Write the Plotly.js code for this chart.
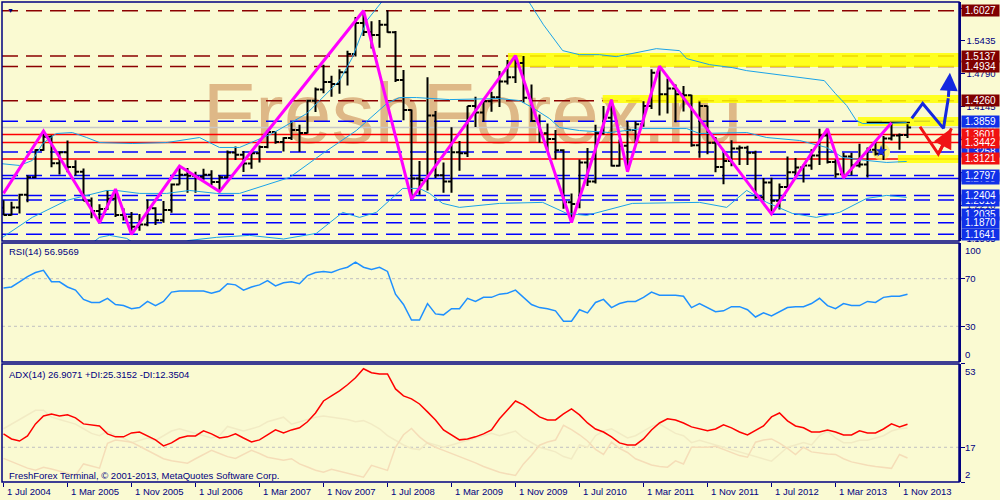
<!DOCTYPE html>
<html><head><meta charset="utf-8">
<script src="https://cdn.plot.ly/plotly-3.0.1.min.js"></script>
<style>html,body{margin:0;padding:0;background:#FAFAD2;} #chart{width:1000px;height:500px;}</style>
</head><body><div id="chart"></div>
<script>
// ---------------- DATA (EUR/USD monthly, Jul 2004 .. Dec 2013) ----------------
const xTickIdx  = [0,8,16,24,32,40,48,56,64,72,80,88,96,104,112];
const xTickText = ['1 Jul 2004','1 Mar 2005','1 Nov 2005','1 Jul 2006','1 Mar 2007','1 Nov 2007','1 Jul 2008','1 Mar 2009','1 Nov 2009','1 Jul 2010','1 Mar 2011','1 Nov 2011','1 Jul 2012','1 Mar 2013','1 Nov 2013'];

const open = [
1.2165,1.2020,1.2170,1.2420,1.2760,1.3295,1.3555,1.3035,1.3250,1.2960,
1.2870,1.2300,1.2100,1.2140,1.2340,1.2020,1.1985,1.1790,1.1835,1.2155,
1.1920,1.2120,1.2620,1.2810,1.2790,1.2770,1.2810,1.2670,1.2760,1.3245,
1.3200,1.3030,1.3230,1.3355,1.3650,1.3450,1.3530,1.3690,1.3630,1.4260,
1.4480,1.4630,1.4590,1.4820,1.5180,1.5785,1.5610,1.5550,1.5750,1.5605,
1.4670,1.4080,1.2735,1.2700,1.3970,1.2800,1.2680,1.3250,1.3230,1.4160,
1.4030,1.4250,1.4330,1.4640,1.4720,1.5000,1.4320,1.3865,1.3625,1.3510,
1.3290,1.2270,1.2235,1.3050,1.2680,1.3630,1.3930,1.2985,1.3380,1.3690,
1.3800,1.4160,1.4810,1.4390,1.4500,1.4390,1.4370,1.3390,1.4160,1.3440,
1.2960,1.3080,1.3325,1.3340,1.3240,1.2370,1.2660,1.2300,1.2570,1.2860,
1.2950,1.2990,1.3190,1.3580,1.3060,1.2820,1.3170,1.2990,1.3010,1.3300,
1.3220,1.3520,1.3580,1.3590];
const high = [
1.2310,1.2280,1.2435,1.2800,1.3310,1.3667,1.3585,1.3265,1.3480,1.3095,
1.2935,1.2365,1.2230,1.2510,1.2530,1.2155,1.2080,1.2040,1.2325,1.2175,
1.2295,1.2640,1.2980,1.2940,1.2870,1.2930,1.2900,1.2800,1.3285,1.3365,
1.3275,1.3240,1.3385,1.3680,1.3660,1.3545,1.3850,1.3790,1.4280,1.4520,
1.4965,1.4750,1.4880,1.5240,1.5905,1.6019,1.5820,1.5845,1.6038,1.5630,
1.4865,1.4090,1.3080,1.4720,1.4060,1.3050,1.3740,1.3470,1.4160,1.4340,
1.4280,1.4440,1.4845,1.5060,1.5145,1.5140,1.4580,1.3990,1.3815,1.3690,
1.3310,1.2440,1.3110,1.3335,1.3790,1.4160,1.4280,1.3500,1.3860,1.3860,
1.4250,1.4880,1.4940,1.4700,1.4580,1.4550,1.4380,1.4245,1.4165,1.3550,
1.3235,1.3485,1.3385,1.3380,1.3280,1.2745,1.2750,1.2640,1.3170,1.3140,
1.3010,1.3310,1.3710,1.3710,1.3110,1.3240,1.3240,1.3420,1.3345,1.3450,
1.3570,1.3830,1.3620,1.3800];
const low = [
1.2020,1.2010,1.2050,1.2270,1.2740,1.3280,1.2955,1.2815,1.2860,1.2795,
1.2300,1.1955,1.1868,1.2120,1.1980,1.1915,1.1640,1.1710,1.1800,1.1825,
1.1870,1.2065,1.2620,1.2455,1.2455,1.2710,1.2605,1.2480,1.2745,1.3100,
1.2865,1.2930,1.3050,1.3330,1.3420,1.3265,1.3490,1.3260,1.3620,1.4040,
1.4410,1.4340,1.4400,1.4560,1.5130,1.5530,1.5285,1.5300,1.5595,1.4630,
1.3880,1.2330,1.2420,1.2500,1.2745,1.2455,1.2455,1.2890,1.3160,1.3745,
1.3850,1.4045,1.4140,1.4580,1.4610,1.4220,1.3860,1.3440,1.3270,1.3115,
1.2145,1.1875,1.2155,1.2590,1.2640,1.3600,1.2970,1.2970,1.2870,1.3430,
1.3750,1.4100,1.3970,1.4010,1.3840,1.4050,1.3360,1.3145,1.3210,1.2860,
1.2625,1.2975,1.3000,1.3000,1.2340,1.2285,1.2040,1.2130,1.2560,1.2800,
1.2660,1.2910,1.3000,1.3030,1.2750,1.2745,1.2800,1.2950,1.2755,1.3190,
1.3100,1.3480,1.3300,1.3530];
const close = [
1.2020,1.2170,1.2420,1.2760,1.3295,1.3555,1.3035,1.3250,1.2960,1.2870,
1.2300,1.2100,1.2140,1.2340,1.2020,1.1985,1.1790,1.1835,1.2155,1.1920,
1.2120,1.2620,1.2810,1.2790,1.2770,1.2810,1.2670,1.2760,1.3245,1.3200,
1.3030,1.3230,1.3355,1.3650,1.3450,1.3530,1.3690,1.3630,1.4260,1.4480,
1.4630,1.4590,1.4820,1.5180,1.5785,1.5610,1.5550,1.5750,1.5605,1.4670,
1.4080,1.2735,1.2700,1.3970,1.2800,1.2680,1.3250,1.3230,1.4160,1.4030,
1.4250,1.4330,1.4640,1.4720,1.5000,1.4320,1.3865,1.3625,1.3510,1.3290,
1.2270,1.2235,1.3050,1.2680,1.3630,1.3930,1.2985,1.3380,1.3690,1.3800,
1.4160,1.4810,1.4390,1.4500,1.4390,1.4370,1.3390,1.4160,1.3440,1.2960,
1.3080,1.3325,1.3340,1.3240,1.2370,1.2660,1.2300,1.2570,1.2860,1.2950,
1.2990,1.3190,1.3580,1.3060,1.2820,1.3170,1.2990,1.3010,1.3300,1.3220,
1.3520,1.3580,1.3590,1.3736];

// Bollinger bands (at selected bars)
const bbUpperIdx = [-0.5,2,3.6,4.9,6.6,8.6,10.4,12,16.1,20.4,24.5,27,29.5,33.6,37.9,42,43.6,45.4,47.4,50,54,58,62,65.6,67.5,69.9,72,74.5,76.6,79.9,81.6,84.5,85.4,88.25,91.1,92.9,97,102.6,104,105.4,106.6,107.4,110.1,112.9];
const bbUpper    = [1.3031,1.2992,1.3090,1.3423,1.3619,1.3638,1.3540,1.3442,1.3423,1.3442,1.3540,1.3345,1.3345,1.3619,1.4010,1.4656,1.5107,1.5831,1.6223,1.65,1.67,1.68,1.66,1.622,1.575,1.5244,1.5165,1.5165,1.5126,1.5224,1.5283,1.5244,1.5087,1.4970,1.4911,1.4852,1.4774,1.4656,1.44,1.4167,1.3873,1.3814,1.3814,1.3834];
const bbMidIdx = [-0.5,3.6,7.9,10.4,12.9,14.1,17,20.4,23.25,26.6,29.5,35.75,39.9,44.1,47.9,49.5,51.6,55.75,59.9,62,64.5,66.1,68.25,69.5,72,75.75,79.9,85.4,87,91.1,92.9,95.4,99.5,102.9,104.9,107.9,110.4,112.9];
const bbMid    = [1.1543,1.1974,1.2307,1.2405,1.2502,1.2502,1.2444,1.2444,1.2502,1.2444,1.2444,1.2757,1.3227,1.3677,1.4206,1.4324,1.4324,1.4284,1.4304,1.4304,1.4265,1.4128,1.3912,1.3736,1.3677,1.3638,1.3716,1.3716,1.3619,1.3638,1.3638,1.3540,1.3482,1.3345,1.3149,1.3090,1.3051,1.3071];
const bbLowerIdx = [-0.5,4,8,10.5,12,13.25,15.4,17,20,23.25,26.6,30.75,35,39.1,42.4,44.5,46.6,49.9,52,53.25,54.9,57,62,67.4,70.4,72.9,78.6,87,90.4,92.9,95.4,98.6,101.6,104.5,107.9,110.4,112.9];
const bbLower    = [1.005,1.05,1.10,1.14,1.1582,1.1621,1.1562,1.14,1.135,1.1523,1.1582,1.1621,1.155,1.1660,1.2072,1.1974,1.2072,1.2542,1.2542,1.2444,1.2248,1.2170,1.2248,1.2268,1.2052,1.2013,1.2248,1.2268,1.2170,1.2503,1.2268,1.2052,1.1974,1.2072,1.2346,1.2405,1.2366];

// ZigZag swing points
const zzIdx   = [0,5,12,14,16,22,27,45,51,64,71,76,78,82,96,103,105,111];
const zzPrice = [1.2444,1.3667,1.1868,1.2530,1.1640,1.2980,1.2480,1.6027,1.2330,1.5145,1.1875,1.4280,1.2870,1.4940,1.2040,1.3710,1.2745,1.3830];

// Forecast paths
const fcBlueIdx = [113.53,114.9,117.5,118.1];
const fcBlue    = [1.3916,1.4209,1.3720,1.4309];
const fcBlueTip = [118.3,1.4810];
const fcRedIdx  = [114.56,116.85];
const fcRed     = [1.3752,1.3216];
const fcRedTip  = [118.5,1.3720];

// RSI(14)
const rsi = [
62.2,63.0,67.4,71.7,75.2,77.0,67.4,67.4,63.0,60.4,
52.6,50.0,50.0,53.5,48.3,47.4,44.8,45.7,50.9,47.4,
50.9,58.7,59.6,59.6,59.6,59.6,57.8,59.6,65.7,64.8,
60.4,63.0,64.8,68.3,63.9,66.5,67.4,65.7,72.6,75.2,
76.1,75.2,77.8,79.6,83.9,79.6,77.8,79.6,76.1,57.0,
48.3,35.2,35.2,49.1,40.4,39.6,44.8,44.8,53.5,50.9,
54.3,54.3,57.0,57.8,60.4,54.3,48.3,45.7,44.8,43.0,
34.3,34.3,43.9,41.3,50.0,52.6,45.7,49.1,50.9,50.9,
54.3,58.7,56.1,56.1,56.1,55.2,45.7,49.1,45.7,42.2,
43.0,46.5,46.5,43.9,37.8,41.3,38.7,42.2,45.7,46.5,
46.5,49.1,53.5,47.4,44.8,49.1,47.4,47.4,50.9,50.0,
54.3,55.2,55.2,56.9569];

// ADX(14), +DI, -DI
const adx = [
22.8,20.6,19.7,21.9,27.1,30.5,31.4,30.5,31.0,29.7,
27.1,26.7,26.2,22.8,21.5,21.5,23.2,23.6,21.9,20.2,
17.6,18.9,21.0,21.9,21.9,24.1,22.8,21.0,21.5,22.8,
21.0,19.3,20.2,22.3,24.5,23.2,24.5,25.4,28.0,31.8,
37.0,39.2,41.4,44.0,47.0,50.9,49.2,48.7,48.7,42.2,
39.2,37.9,35.7,32.3,28.8,24.5,22.3,20.2,20.6,21.5,
22.8,24.5,29.3,33.1,37.0,35.3,32.7,30.1,28.8,28.8,
31.4,33.6,31.0,27.5,24.9,23.6,21.5,18.9,18.0,18.0,
20.6,24.5,27.5,29.3,28.8,27.5,25.8,24.9,24.1,24.9,
26.7,25.4,23.6,22.3,24.1,26.2,30.1,31.8,28.4,26.2,
25.4,23.6,23.6,24.5,23.6,22.3,22.3,24.1,23.2,23.2,
24.9,27.1,25.8,26.9071];
const plusDI = [
25,27,29,31,33,33,30,29,28,27,
25,23,22,24,22,21,19,20,21,20,
22,24,25,24,23,22,21,22,26,25,
24,25,26,28,29,30,27,28,29,30,
30.5,30,29.5,29,28,28.5,27,25,22,20,
18,16.5,16,19,18,17,18,19,20,21,
22,23,22,23,24,21,19,17,16,15,
13,12,18,17,22,24,25,23,21,22,
24,26,27,25,23,22,19,20,19,18,
17,16,15,14,13,12,11,14,17,18,
19,18,22,24,21,19,19,20,20,21,
22,24,25,25.3152];
const minusDI = [
12.2,10.7,9.35,8.0,7.1,8.4,7.6,6.65,5.75,4.85,
9.8,8.9,8.0,18.7,20.1,19.7,19.2,17.45,15.65,13.85,
12.05,11.15,10.7,10.1,12.05,13.85,15.7,14.3,12.95,12.2,
13.85,15.7,14.3,12.7,12.05,11.4,12.05,9.8,8.45,7.1,
6.2,7.45,6.65,5.75,4.85,4.05,9.2,8.0,7.0,17.0,
22.4,25.1,21.5,18.8,17.0,15.65,14.3,13.2,11.6,10.25,
8.7,7.3,6.2,5.5,4.85,9.8,13.6,17.9,19.25,20.1,
26.5,24.65,22.4,19.7,16.1,13.9,19.2,16.55,14.75,12.05,
10.7,9.35,8.7,8.4,11.15,9.8,17.0,17.0,17.0,17.45,
16.1,14.75,13.4,12.7,19.2,20.15,20.6,18.8,16.55,13.85,
17.0,15.0,14.5,14.1,13.9,12.05,10.7,9.8,9.2,8.7,
8.2,7.9,13.9,12.3504];

// Horizontal levels
const levelMaroon   = [1.6027,1.5137,1.4934,1.4260];
const levelBlueDash = [1.3859,1.3258,1.2797,1.2404,1.2313,1.2035,1.1870,1.1641];
const levelRed      = [1.3601,1.3442,1.3121];
const levelBlueSolid= [1.2738];
const bidPrice      = 1.3736;
const mainTicks     = [1.6080,1.5435,1.4790,1.4145,1.3500,1.2855,1.2210,1.1565];
const mainTickText  = ['','1.5435','1.4790','1.4145','','','1.2210','1.1565']; // blank = fully hidden behind level boxes
// Highlight zones [fromIdx, priceTop, priceBottom]
const zoneFrom = [63.06,74.9,106.8,111.8];
const zoneTop  = [1.5197,1.4373,1.3942,1.3197];
const zoneBot  = [1.4923,1.4216,1.3766,1.3040];

// ---------------- STYLE ----------------
const NAVY = '#000080';
const FONT = '"Liberation Sans", Arial, sans-serif';
const FS = 9.5;
const X_RANGE = [-0.1875, 119.4375];
const idx = open.map((_, i) => i);

const traces = [];
traces.push({type:'scatter', mode:'lines', x:bbUpperIdx, y:bbUpper, line:{color:'#1AA3E8', width:1}, xaxis:'x', yaxis:'y', hoverinfo:'skip'});
traces.push({type:'scatter', mode:'lines', x:bbMidIdx, y:bbMid, line:{color:'#1AA3E8', width:1}, xaxis:'x', yaxis:'y', hoverinfo:'skip'});
traces.push({type:'scatter', mode:'lines', x:bbLowerIdx, y:bbLower, line:{color:'#1AA3E8', width:1}, xaxis:'x', yaxis:'y', hoverinfo:'skip'});
traces.push({type:'ohlc', x:idx, open:open, high:high, low:low, close:close, xaxis:'x', yaxis:'y',
  increasing:{line:{color:'#000000', width:2}}, decreasing:{line:{color:'#000000', width:2}}, tickwidth:0.45, hoverinfo:'skip'});
traces.push({type:'scatter', mode:'lines', x:zzIdx, y:zzPrice, line:{color:'#FF00FF', width:3}, xaxis:'x', yaxis:'y', hoverinfo:'skip'});
traces.push({type:'scatter', mode:'lines', x:fcBlueIdx, y:fcBlue, line:{color:'#1428E0', width:3}, xaxis:'x', yaxis:'y', hoverinfo:'skip'});
traces.push({type:'scatter', mode:'lines', x:fcRedIdx.concat([fcRedTip[0]]), y:fcRed.concat([fcRedTip[1]]), line:{color:'#F01414', width:3}, xaxis:'x', yaxis:'y', hoverinfo:'skip'});
traces.push({type:'scatter', mode:'markers', x:[109.7], y:[1.3270], marker:{symbol:'star', size:9, color:'#1428E0'}, xaxis:'x', yaxis:'y', hoverinfo:'skip'});
// RSI
traces.push({type:'scatter', mode:'lines', x:idx, y:rsi, line:{color:'#1E90FF', width:1.5}, xaxis:'x', yaxis:'y2', hoverinfo:'skip'});
// ADX
traces.push({type:'scatter', mode:'lines', x:idx, y:plusDI, line:{color:'#F2EBC4', width:1.5}, xaxis:'x', yaxis:'y3', hoverinfo:'skip'});
traces.push({type:'scatter', mode:'lines', x:idx, y:minusDI, line:{color:'#F5DDB8', width:1.5}, xaxis:'x', yaxis:'y3', hoverinfo:'skip'});
traces.push({type:'scatter', mode:'lines', x:idx, y:adx, line:{color:'#FF0000', width:1.5}, xaxis:'x', yaxis:'y3', hoverinfo:'skip'});

// ---------------- SHAPES ----------------
const px2paperX = p => (p - 2) / 957;
const px2paperY = p => (482 - p) / 480;
const shapes = [];
// watermark
shapes.push({type:'rect', xref:'paper', yref:'paper', x0:px2paperX(205), x1:px2paperX(740), y0:px2paperY(150), y1:px2paperY(60),
  line:{width:0}, fillcolor:'rgba(0,0,0,0)', layer:'below',
  label:{text:'FreshForex.ru', textposition:'middle center', font:{size:86, color:'#DEB887', family:'"Liberation Sans", Arial, sans-serif'}}});
// yellow zones
zoneFrom.forEach((f, k) => shapes.push({type:'rect', xref:'x', yref:'y', x0:f, x1:X_RANGE[1], y0:zoneBot[k], y1:zoneTop[k],
  line:{width:0}, fillcolor:'rgba(255,255,0,0.85)', layer:'below'}));
shapes.push({type:'circle', xref:'x', yref:'y', x0:108.6, x1:110.8, y0:1.3094, y1:1.3430, line:{width:0}, fillcolor:'rgba(255,240,80,0.7)', layer:'below'});
// levels
const hline = (v, color, dash, w) => ({type:'line', xref:'paper', yref:'y', x0:0, x1:1, y0:v, y1:v, line:{color:color, width:w, dash:dash}, layer:'below'});
shapes.push(hline(bidPrice, '#C8C8C8', 'solid', 1.5));
levelMaroon.forEach(v => shapes.push(hline(v, '#8B0000', '16px,8px', 1.5)));
levelBlueDash.forEach(v => shapes.push(hline(v, '#0000FF', '16px,8px', 1.5)));
levelBlueSolid.forEach(v => shapes.push(hline(v, '#0000FF', 'solid', 1.5)));
levelRed.forEach(v => shapes.push(hline(v, '#FF0000', 'solid', 1.5)));
shapes.push({type:'line', xref:'x', yref:'y', x0:107.9, x1:113.3, y0:1.3834, y1:1.3834, line:{color:'#000000', width:1.5}, layer:'below'});
// RSI / ADX levels
[70,30].forEach(v => shapes.push({type:'line', xref:'paper', yref:'y2', x0:0, x1:1, y0:v, y1:v, line:{color:'#C0C0C0', width:1, dash:'3px,3px'}, layer:'below'}));
shapes.push({type:'line', xref:'paper', yref:'y3', x0:0, x1:1, y0:17, y1:17, line:{color:'#C0C0C0', width:1, dash:'3px,3px'}, layer:'below'});
// panel frames
[[2,241],[243,362],[364,482]].forEach(([t,b]) => shapes.push({type:'rect', xref:'paper', yref:'paper', x0:0, x1:1, y0:px2paperY(b), y1:px2paperY(t),
  line:{color:NAVY, width:1.5}, fillcolor:'rgba(0,0,0,0)', layer:'above'}));

// ---------------- ANNOTATIONS ----------------
const ann = [];
const boxX = px2paperX(960.5);
const box = (v, bg) => ({xref:'paper', yref:'y', x:boxX, y:v, xanchor:'left', yanchor:'middle', text:v.toFixed(4), showarrow:false,
  bgcolor:bg, width:37, height:11, align:'center', borderpad:0, font:{family:FONT, size:10, color:'#FFFFFF'}});
ann.push(box(bidPrice, '#C0C0C0'));
levelBlueSolid.forEach(v => ann.push(box(v, '#1030E8')));
ann.push(box(1.2313, '#1030E8'));
ann.push(box(1.3258, '#1030E8'));
levelBlueDash.filter(v => v !== 1.2313 && v !== 1.3258).forEach(v => ann.push(box(v, '#1030E8')));
levelRed.forEach(v => ann.push(box(v, '#F01010')));
levelMaroon.forEach(v => ann.push(box(v, '#800000')));
// indicator scale labels
const sideLbl = (yref, v, anchor) => ({xref:'paper', yref:yref, x:px2paperX(963), y:v, xanchor:'left', yanchor:anchor, text:String(v), showarrow:false, font:{family:FONT, size:FS, color:NAVY}});
ann.push(sideLbl('y2',100,'top'), sideLbl('y2',70,'middle'), sideLbl('y2',30,'middle'), sideLbl('y2',0,'bottom'));
ann.push(sideLbl('y3',53,'top'), sideLbl('y3',17,'middle'), sideLbl('y3',2,'bottom'));
// time axis labels (left-aligned at their tick, as in the terminal)
xTickIdx.forEach((t, k) => ann.push({xref:'x', yref:'paper', x:t, y:px2paperY(491), xanchor:'left', yanchor:'middle', xshift:1,
  text:xTickText[k], showarrow:false, font:{family:FONT, size:FS, color:NAVY}}));
// captions
const cap = (t, py) => ({xref:'paper', yref:'paper', x:px2paperX(7), y:px2paperY(py), xanchor:'left', yanchor:'middle', text:t, showarrow:false, font:{family:FONT, size:FS, color:NAVY}});
ann.push(cap('RSI(14) 56.9569', 252));
ann.push(cap('ADX(14) 26.9071 +DI:25.3152 -DI:12.3504', 374));
ann.push(cap('FreshForex Terminal, \u00A9 2001-2013, MetaQuotes Software Corp.', 475));
ann.push({xref:'paper', yref:'paper', x:px2paperX(10), y:px2paperY(10), xanchor:'center', yanchor:'middle', text:'\u25BC', showarrow:false, font:{size:7, color:NAVY}});
// forecast arrow heads
ann.push({xref:'x', yref:'y', axref:'x', ayref:'y', x:fcBlueTip[0], y:fcBlueTip[1], ax:fcBlueIdx[3], ay:fcBlue[3], text:'', showarrow:true, arrowhead:2, arrowsize:1.2, arrowwidth:3, arrowcolor:'#1428E0'});
ann.push({xref:'x', yref:'y', axref:'x', ayref:'y', x:fcRedTip[0], y:fcRedTip[1], ax:fcRedIdx[1], ay:fcRed[1], text:'', showarrow:true, arrowhead:2, arrowsize:1.3, arrowwidth:3, arrowcolor:'#F01414'});

const yCommon = {side:'right', showgrid:false, zeroline:false, showline:true, linecolor:NAVY, linewidth:1.5, ticks:'outside', ticklen:4, tickcolor:NAVY, fixedrange:true};
const layout = {
  width:1000, height:500,
  margin:{l:2, r:41, t:2, b:18},
  paper_bgcolor:'#FAFAD2', plot_bgcolor:'#FAFAD2',
  showlegend:false, hovermode:false, dragmode:false,
  font:{family:FONT, size:FS, color:NAVY},
  xaxis:{domain:[0,1], anchor:'y3', range:X_RANGE, tickmode:'array', tickvals:xTickIdx, showticklabels:false,
    ticks:'outside', ticklen:4, tickcolor:NAVY, showgrid:false, zeroline:false, showline:false,
    rangeslider:{visible:false}, fixedrange:true},
  yaxis:Object.assign({domain:[0.502,1], range:[1.1510,1.6198], tickmode:'array', tickvals:mainTicks, ticktext:mainTickText,
    tickfont:{family:FONT, size:FS, color:NAVY}}, yCommon),
  yaxis2:Object.assign({domain:[0.25,0.498], range:[0,100], tickmode:'array', tickvals:[70,30], showticklabels:false}, yCommon),
  yaxis3:Object.assign({domain:[0,0.246], range:[2,53], tickmode:'array', tickvals:[53,17,2], showticklabels:false}, yCommon),
  shapes:shapes, annotations:ann
};
Plotly.newPlot('chart', traces, layout, {displayModeBar:false, staticPlot:true});
</script>
</body></html>
